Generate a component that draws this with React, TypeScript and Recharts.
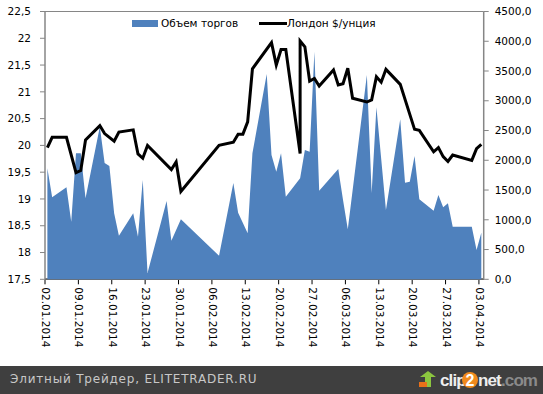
import React from 'react';
import { ComposedChart, Area, Line, XAxis, YAxis, CartesianGrid } from 'recharts';

// trading days, counted from 02.01.2014 (day 53 appears twice: two quotes on the same date)
const days = [0, 1, 4, 5, 6, 7, 8, 11, 12, 13, 14, 15, 18, 19, 20, 21, 25, 26, 27, 28, 36, 39, 40, 41, 42, 43, 46, 47, 48, 49, 50, 53, 53, 54, 55, 56, 57, 60, 61, 62, 63, 64, 67, 68, 69, 70, 71, 74, 75, 76, 77, 78, 81, 82, 83, 84, 85, 88, 89, 90, 91];
const london = [19.96, 20.15, 20.15, null, 19.49, 19.53, 20.1, 20.37, 20.22, null, 20.08, 20.25, 20.29, 19.84, 19.76, 20.0, null, 19.55, 19.69, 19.14, 20.0, 20.06, 20.21, 20.21, 20.44, 21.43, null, 21.92, 21.5, 21.79, 21.79, 19.85, 21.95, 21.84, 21.2, 21.25, 21.11, 21.41, 21.13, 21.15, 21.44, 20.88, 20.81, 20.85, 21.28, 21.18, 21.42, 21.14, null, null, 20.3, 20.28, 19.88, 19.96, 19.79, 19.7, 19.82, null, 19.72, 19.94, 20.02];
const volume = [1865, 1378, 1546, 968, 2117, 2117, 1361, 2565, 1953, 1904, 1110, 733, 1109, 716, 1669, 105, 1316, 649, null, 1008, 397, 1618, 1119, null, 773, 2120, 3450, 2090, 1808, 2117, 1388, 1697, 1697, 2173, 2145, 3825, 1489, null, 1854, 1333, 840, null, 3433, 1450, 2891, null, 1165, 2689, 1624, 1640, 2072, 1345, 1153, 1417, 1210, 1277, 884, null, 884, 492, 783];

const tickDays = [0, 7, 14, 21, 28, 35, 42, 49, 56, 63, 70, 77, 84, 91];
const tickLabels = ['02.01.2014', '09.01.2014', '16.01.2014', '23.01.2014', '30.01.2014', '06.02.2014', '13.02.2014', '20.02.2014', '27.02.2014', '06.03.2014', '13.03.2014', '20.03.2014', '27.03.2014', '03.04.2014'];
const leftTicks = [17.5, 18, 18.5, 19, 19.5, 20, 20.5, 21, 21.5, 22, 22.5];
const rightTicks = [0, 500, 1000, 1500, 2000, 2500, 3000, 3500, 4000, 4500];

const rows = days.map((day, i) => ({ day, london: london[i], volume: volume[i] }));
const FONT = '"DejaVu Sans", sans-serif';
const LOGO_FONT = '"Liberation Sans", sans-serif';
const GRID = '#868686';

const CHART_W = 543;
const CHART_H = 366;
const LEFT_W = 45;
const RIGHT_W = 59.3;
const XAXIS_H = 86.7;
const MARGIN = { top: 11.5, right: 0, bottom: 0, left: 0 };
const layer: React.CSSProperties = { position: 'absolute', left: 0, top: 0 };

const DateTick = ({ x, y, index }: any) => (
  <text
    transform={`translate(${x + 1},${y + 1}) rotate(90)`}
    fontFamily={FONT}
    fontSize={10.5}
    fill="#000"
    dominantBaseline="central"
  >
    {tickLabels[index]}
  </text>
);

const ChartLegend = () => (
  <div style={{ position: 'absolute', left: 132, top: 16, width: 260, height: 16, fontFamily: FONT, fontSize: 10.5, color: '#000' }}>
    <span style={{ position: 'absolute', left: 0, top: 4, width: 26, height: 7, background: '#4f81bd' }} />
    <span style={{ position: 'absolute', left: 29, top: 1, whiteSpace: 'nowrap' }}>Объем торгов</span>
    <span style={{ position: 'absolute', left: 127, top: 6, width: 28, height: 3, background: '#000' }} />
    <span style={{ position: 'absolute', left: 155, top: 1, whiteSpace: 'nowrap' }}>Лондон $/унция</span>
  </div>
);

const Footer = () => (
  <div style={{ position: 'absolute', left: 0, top: 366, width: 543, height: 28, background: '#3f3f3f' }}>
    <span style={{ position: 'absolute', left: 10, top: 6, fontFamily: FONT, fontSize: 12, letterSpacing: 0.8, color: '#c8c8c8', whiteSpace: 'nowrap' }}>
      Элитный Трейдер, ELITETRADER.RU
    </span>
    <svg width={130} height={28} style={{ position: 'absolute', left: 413, top: 0 }}>
      <polygon points="6,20 12,20 12,11 7,11 15,5 23,11 18,11 18,21 6,21" fill="#8cc63f" />
      <rect x={6} y={16} width={8} height={5} fill="#e8701a" />
      <text x={27} y={20} fontFamily={LOGO_FONT} fontWeight={700} fontSize={17} letterSpacing={-0.9} fill="#eee">clip</text>
      <circle cx={57} cy={14} r={8} fill="#f08a1d" />
      <text x={52.5} y={20} fontFamily={LOGO_FONT} fontWeight={700} fontSize={16} fill="#fff">2</text>
      <text x={65} y={20} fontFamily={LOGO_FONT} fontWeight={700} fontSize={17} letterSpacing={-0.9} fill="#eee">net</text>
      <text x={88} y={20} fontFamily={LOGO_FONT} fontWeight={700} fontSize={17} letterSpacing={-0.9} fill="#8a8a8a">.com</text>
    </svg>
  </div>
);

// bottom layer: axes, tick marks and labels only
const AxesLayer = () => (
  <div style={layer}>
    <ComposedChart width={CHART_W} height={CHART_H} data={rows} margin={MARGIN}>
      <XAxis
        dataKey="day"
        type="number"
        domain={[-0.5, 91.5]}
        ticks={tickDays.map((d) => d - 0.5)}
        interval={0}
        allowDuplicatedCategory
        height={XAXIS_H}
        tickSize={5}
        tick={<DateTick />}
        axisLine={{ stroke: '#000', strokeWidth: 1.5 }}
        tickLine={{ stroke: '#000' }}
      />
      <YAxis
        domain={[17.5, 22.5]}
        ticks={leftTicks}
        interval={0}
        width={LEFT_W}
        tickSize={5}
        tickMargin={9}
        tickFormatter={(v: number) => String(v).replace('.', ',')}
        tick={{ fontFamily: FONT, fontSize: 10.5, fill: '#000' }}
        axisLine={{ stroke: GRID, strokeWidth: 1.5 }}
        tickLine={{ stroke: GRID }}
      />
      <YAxis
        yAxisId="right"
        orientation="right"
        domain={[0, 4500]}
        ticks={rightTicks}
        interval={0}
        width={RIGHT_W}
        tickSize={5}
        tickMargin={6}
        tickFormatter={(v: number) => v.toFixed(1).replace('.', ',')}
        tick={{ fontFamily: FONT, fontSize: 10.5, fill: '#000', textAnchor: 'start' }}
        axisLine={{ stroke: GRID, strokeWidth: 1.5 }}
        tickLine={{ stroke: GRID }}
      />
      <Line dataKey="london" connectNulls stroke="none" dot={false} activeDot={false} isAnimationActive={false} />
      <Line yAxisId="right" dataKey="volume" connectNulls stroke="none" dot={false} activeDot={false} isAnimationActive={false} />
    </ComposedChart>
  </div>
);

// top layer: grid and series, on axes with the same box but nothing drawn
const MarksLayer = () => (
  <div style={layer}>
    <ComposedChart width={CHART_W} height={CHART_H} data={rows} margin={MARGIN}>
      <CartesianGrid vertical={false} stroke={GRID} strokeWidth={1} />
      <XAxis dataKey="day" type="number" domain={[-0.5, 91.5]} ticks={[-0.5]} allowDuplicatedCategory height={XAXIS_H} tick={false} axisLine={false} tickLine={false} />
      <YAxis domain={[17.5, 22.5]} ticks={leftTicks} interval={0} width={LEFT_W} tick={false} axisLine={false} tickLine={false} />
      <YAxis yAxisId="right" orientation="right" domain={[0, 4500]} ticks={rightTicks} interval={0} width={RIGHT_W} tick={false} axisLine={false} tickLine={false} />
      <Area yAxisId="right" dataKey="volume" name="Объем торгов" connectNulls stroke="none" fill="#4f81bd" fillOpacity={1} dot={false} activeDot={false} isAnimationActive={false} />
      <Line dataKey="london" name="Лондон $/унция" connectNulls stroke="#000" strokeWidth={3} dot={false} activeDot={false} isAnimationActive={false} />
    </ComposedChart>
  </div>
);

export default function App() {
  return (
    <div style={{ position: 'absolute', left: 0, top: 0, width: 543, height: 394, background: '#fff', overflow: 'hidden' }}>
      <AxesLayer />
      <MarksLayer />
      <ChartLegend />
      <Footer />
    </div>
  );
}
